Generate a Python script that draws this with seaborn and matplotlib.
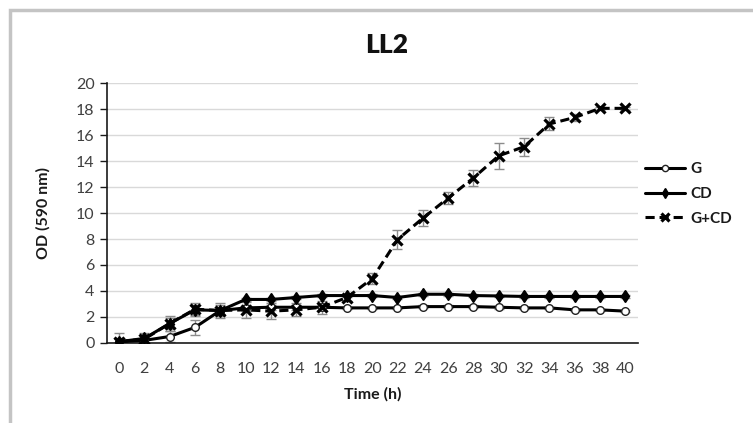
import numpy as np
import pandas as pd
import matplotlib
matplotlib.use("Agg")
import matplotlib.pyplot as plt
from matplotlib.lines import Line2D
from matplotlib.patches import Rectangle
import seaborn as sns

time_h = [0, 2, 4, 6, 8, 10, 12, 14, 16, 18, 20, 22, 24, 26, 28, 30, 32, 34, 36, 38, 40]
g_vals = [0.1, 0.2, 0.5, 1.2, 2.5, 2.7, 2.75, 2.75, 2.75, 2.7, 2.7, 2.7, 2.8, 2.8, 2.8, 2.75, 2.7, 2.7, 2.55, 2.55, 2.45]
g_err = [0.3, 0.2, 0.4, 0.6, 0.4, 0.2, 0.2, 0.2, 0.2, 0.1, 0.1, 0.1, 0.1, 0.1, 0.1, 0.1, 0.1, 0.1, 0.1, 0.1, 0.1]
cd_vals = [0.1, 0.35, 1.5, 2.55, 2.5, 3.35, 3.35, 3.5, 3.65, 3.65, 3.65, 3.5, 3.75, 3.75, 3.65, 3.62, 3.58, 3.58, 3.58, 3.58, 3.58]
cd_err = [0.2, 0.3, 0.4, 0.4, 0.3, 0.1, 0.1, 0.1, 0.1, 0.1, 0.1, 0.1, 0.1, 0.1, 0.1, 0.1, 0.1, 0.1, 0.1, 0.1, 0.1]
gcd_vals = [0.1, 0.3, 1.5, 2.6, 2.5, 2.55, 2.45, 2.55, 2.75, 3.5, 4.95, 7.95, 9.6, 11.15, 12.7, 14.4, 15.1, 16.85, 17.35, 18.05, 18.05]
gcd_err = [0.7, 0.5, 0.6, 0.5, 0.6, 0.6, 0.6, 0.5, 0.5, 0.3, 0.4, 0.75, 0.6, 0.45, 0.6, 1.0, 0.7, 0.5, 0.25, 0.1, 0.1]

series_names = ["G", "CD", "G+CD"]
y_ticks = [0, 2, 4, 6, 8, 10, 12, 14, 16, 18, 20]

sns.set_theme(style="white")
plt.rcParams["font.family"] = ["Lato", "DejaVu Sans"]

W, H = 753, 423
fig = plt.figure(figsize=(W / 100, H / 100), dpi=100)
ax = fig.add_axes([107 / W, 1 - 343 / H, (638 - 107) / W, (343 - 83) / H])

df = pd.DataFrame({
    "time": time_h * 3,
    "od": g_vals + cd_vals + gcd_vals,
    "err": g_err + cd_err + gcd_err,
    "series": ["G"] * len(time_h) + ["CD"] * len(time_h) + ["G+CD"] * len(time_h),
})

styles = {
    "G": dict(marker="o", markersize=5.5, markerfacecolor="white", markeredgecolor="#222222",
              markeredgewidth=1.0, linestyle="-", linewidth=2.2),
    "CD": dict(marker="d", markersize=6, markerfacecolor="black", markeredgecolor="black",
               markeredgewidth=1.0, linestyle="-", linewidth=2.2),
    "G+CD": dict(marker="x", markersize=6.5, markeredgecolor="black", markeredgewidth=2.3,
                 linestyle=(0, (3, 1.6)), linewidth=2.2),
}

for name in series_names:
    sub = df[df["series"] == name]
    ax.errorbar(sub["time"], sub["od"], yerr=sub["err"], fmt="none", ecolor="#8c8c8c",
                elinewidth=1.0, capsize=3.5, capthick=1.0, zorder=2)

for name in series_names:
    sub = df[df["series"] == name]
    st = styles[name]
    sns.lineplot(data=sub, x="time", y="od", ax=ax, color="black", zorder=3,
                 marker=st["marker"], markersize=st["markersize"],
                 markerfacecolor=st.get("markerfacecolor", "black"),
                 markeredgecolor=st["markeredgecolor"], markeredgewidth=st["markeredgewidth"],
                 linestyle=st["linestyle"], linewidth=st["linewidth"], legend=False)

ax.set_xlim(-0.95, 41.0)
ax.set_ylim(0, 20)
ax.set_xticks(time_h)
ax.set_xticklabels([str(t) for t in time_h])
ax.set_yticks(y_ticks)
ax.set_yticklabels([str(t) for t in y_ticks])
ax.grid(axis="y", color="#d9d9d9", linewidth=1.0)
ax.grid(axis="x", visible=False)
ax.set_axisbelow(True)
for s in ["top", "right"]:
    ax.spines[s].set_visible(False)
ax.spines["left"].set_color("#1a1a1a")
ax.spines["bottom"].set_color("#1a1a1a")
ax.spines["left"].set_linewidth(1.2)
ax.spines["bottom"].set_linewidth(1.2)
ax.tick_params(axis="y", left=True, length=5, width=1.0, color="#1a1a1a",
               labelsize=11.5, labelcolor="#404040", pad=4)
ax.tick_params(axis="x", bottom=False, labelsize=11.5, labelcolor="#404040", pad=8)

ax.set_xlabel("Time (h)", fontsize=11.5, fontweight="bold", color="#1a1a1a", labelpad=8)
ax.set_ylabel("OD (590 nm)", fontsize=11.5, fontweight="bold", color="#1a1a1a", labelpad=18)

fig.text(387 / W, 1 - 45 / H, "LL2", ha="center", va="center", fontsize=19,
         fontweight="heavy", color="#111111")

handles = []
for name in series_names:
    st = styles[name]
    handles.append(Line2D([], [], color="black", marker=st["marker"], markersize=st["markersize"] - 1,
                          markerfacecolor=st.get("markerfacecolor", "black"),
                          markeredgecolor=st["markeredgecolor"],
                          markeredgewidth=st["markeredgewidth"],
                          linestyle=st["linestyle"], linewidth=st["linewidth"]))
leg = ax.legend(handles, series_names, loc="center left", bbox_to_anchor=(636 / W, 1 - 194 / H),
                bbox_transform=fig.transFigure, frameon=False, handlelength=2.6,
                handletextpad=0.35, labelspacing=0.7, borderaxespad=0.2,
                prop={"weight": "bold", "size": 11})
for t in leg.get_texts():
    t.set_color("#1a1a1a")

fig.patches.append(Rectangle((10 / W, -0.2), 1.2, 1 - 10 / H + 0.2, transform=fig.transFigure,
                             fill=False, edgecolor="#c4c4c4", linewidth=2.5, zorder=0))

fig.savefig("out.png", dpi=100, facecolor="white")
